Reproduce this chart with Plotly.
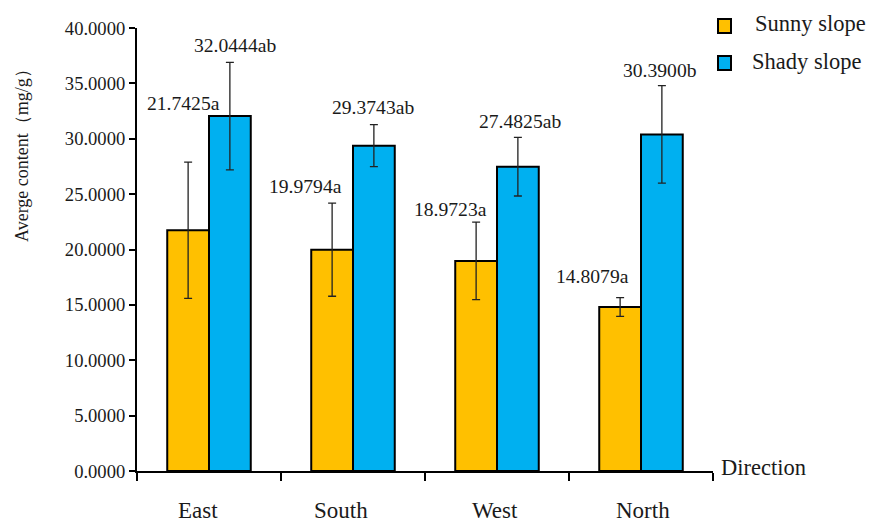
import plotly.graph_objects as go

# Data
directions = ["East", "South", "West", "North"]
sunny_mean = [21.7425, 19.9794, 18.9723, 14.8079]
shady_mean = [32.0444, 29.3743, 27.4825, 30.3900]
sunny_err = [6.15, 4.2, 3.5, 0.85]
shady_err = [4.85, 1.9, 2.65, 4.4]
sunny_sig = ["a", "a", "a", "a"]
shady_sig = ["ab", "ab", "ab", "b"]
series_names = ["Sunny slope", "Shady slope"]
y_ticks = [0, 5, 10, 15, 20, 25, 30, 35, 40]

# Styling
FONT = "Liberation Serif"
TXT = "#1a1a1a"
SUNNY = "#FFC000"
SHADY = "#00B0F0"
BAR_W = 0.29

# plot-area geometry in pixels (used to place the key in paper units)
W, H = 869, 522
L, R, T, B = 137, 156, 28, 51
PW, PH = W - L - R, H - T - B


def px_x(px):
    return (px - L) / PW


def px_y(py):
    return (H - B - py) / PH


# label offsets (px) relative to the top of each error bar
sunny_shift = [(-5, 59), (-27, 17), (-26, 13), (-28, 21)]
shady_shift = [(5, 17), (-1, 17), (2, 16), (-2, 15)]

centers = [i + 0.5 for i in range(len(directions))]

fig = go.Figure()
fig.add_trace(go.Bar(
    x=centers, y=sunny_mean, name=series_names[0],
    width=BAR_W, offset=-BAR_W,
    marker=dict(color=SUNNY, line=dict(color="black", width=2)),
    error_y=dict(type="data", array=sunny_err, color="#222", thickness=1.3, width=4),
))
fig.add_trace(go.Bar(
    x=centers, y=shady_mean, name=series_names[1],
    width=BAR_W, offset=0,
    marker=dict(color=SHADY, line=dict(color="black", width=2)),
    error_y=dict(type="data", array=shady_err, color="#222", thickness=1.3, width=4),
))

annotations = []
for i, c in enumerate(centers):
    for mean, err, sig, shift, off in (
        (sunny_mean[i], sunny_err[i], sunny_sig[i], sunny_shift[i], -BAR_W / 2),
        (shady_mean[i], shady_err[i], shady_sig[i], shady_shift[i], BAR_W / 2),
    ):
        annotations.append(dict(
            x=c + off, y=mean + err, xref="x", yref="y",
            text=f"{mean:.4f}{sig}", showarrow=False,
            xanchor="center", yanchor="middle",
            xshift=shift[0], yshift=shift[1],
            font=dict(family=FONT, size=19.6, color=TXT),
        ))

# category names below the axis
name_shift = [-11, -12, -2, 2]
for i, (c, name) in enumerate(zip(centers, directions)):
    annotations.append(dict(
        x=c, y=0, xref="x", yref="y", text=name, showarrow=False,
        xanchor="center", yanchor="middle", xshift=name_shift[i], yshift=-39,
        font=dict(family=FONT, size=23, color=TXT),
    ))

annotations.append(dict(
    x=1, y=0, xref="paper", yref="y", text="Direction", showarrow=False,
    xanchor="left", yanchor="middle", xshift=6, yshift=4,
    font=dict(family=FONT, size=22.5, color=TXT),
))
annotations.append(dict(
    x=-0.2, y=0.722, xref="paper", yref="paper",
    text="Averge content（mg/g）", showarrow=False, textangle=-90,
    xanchor="center", yanchor="middle",
    font=dict(family=FONT, size=18, color=TXT),
))

# key: outlined swatches with series names, top right
shapes = []
key_rows = [(SUNNY, 19, 753), (SHADY, 56, 750)]
for name, (col, top, text_x) in zip(series_names, key_rows):
    shapes.append(dict(
        type="rect", xref="paper", yref="paper",
        x0=px_x(718), x1=px_x(731), y0=px_y(top + 14), y1=px_y(top),
        fillcolor=col, line=dict(color="black", width=2),
    ))
    annotations.append(dict(
        x=px_x(text_x), y=px_y(top + 5), xref="paper", yref="paper",
        text=name, showarrow=False, xanchor="left", yanchor="middle",
        font=dict(family=FONT, size=22.5, color=TXT),
    ))

fig.update_layout(
    width=W, height=H,
    margin=dict(l=L, r=R, t=T, b=B),
    paper_bgcolor="white", plot_bgcolor="white",
    showlegend=False,
    annotations=annotations,
    shapes=shapes,
    xaxis=dict(
        range=[0, len(directions)], showgrid=False, zeroline=False,
        showline=True, linecolor="black", linewidth=2,
        tickmode="array", tickvals=list(range(len(directions) + 1)),
        showticklabels=False, ticks="outside", ticklen=8,
        tickwidth=2, tickcolor="black",
    ),
    yaxis=dict(
        range=[0, 40], showgrid=False, zeroline=False,
        showline=True, linecolor="black", linewidth=2,
        tickmode="array", tickvals=y_ticks,
        ticktext=[f"{v:.4f}" for v in y_ticks],
        ticks="outside", ticklen=6, tickwidth=2, tickcolor="black",
        tickfont=dict(family=FONT, size=18.6, color=TXT),
    ),
)

fig.write_html("out.html")
